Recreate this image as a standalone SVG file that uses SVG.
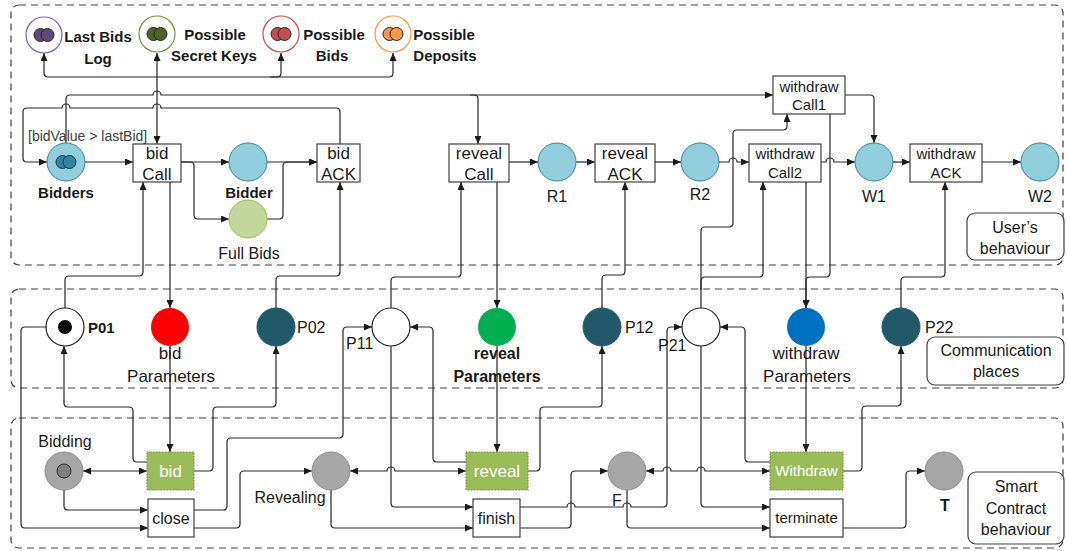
<svg xmlns="http://www.w3.org/2000/svg" width="1067" height="551" viewBox="0 0 1067 551">
<style>
text{font-family:"Liberation Sans",Arial,sans-serif;fill:#1a1a1a}
.frame{fill:none;stroke:#404040;stroke-width:1.2;stroke-dasharray:7 5}
.lbox{fill:#fff;stroke:#404040;stroke-width:1.2}
.tr{fill:#fff;stroke:#404040;stroke-width:1.2}
.gtr{fill:#9bbb59;stroke:#77933c;stroke-width:1.2;stroke-dasharray:1.5 1.5}
.blue{fill:#92cddc;stroke:#31859c;stroke-width:1}
.grey{fill:#a6a6a6;stroke:#8c8c8c;stroke-width:1}
.white{fill:#fff;stroke:#262626;stroke-width:1.2}
.dteal{fill:#215968;stroke:#215968}
.c{fill:none;stroke:#262626;stroke-width:1.2;marker-end:url(#a)}
.n{fill:none;stroke:#262626;stroke-width:1.2}
.b{fill:none;stroke:#262626;stroke-width:1.2;marker-end:url(#a);marker-start:url(#a)}
.t16{font-size:16px}
.t17{font-size:17px}
.t15{font-size:15px}
.bold{font-weight:bold;font-size:15px}
.mid{text-anchor:middle}
.wt{fill:#fff}
</style>
<defs>
<marker id="a" viewBox="0 0 8 7" refX="8" refY="3.5" markerWidth="8" markerHeight="7" markerUnits="userSpaceOnUse" orient="auto-start-reverse"><path d="M0,0 L8,3.5 L0,7 z" fill="#1a1a1a"/></marker>
</defs>

<g id="frames">
<rect class="frame" x="11" y="5" width="1052" height="260" rx="8"/>
<rect class="frame" x="11" y="289" width="1052" height="99" rx="8"/>
<rect class="frame" x="11" y="418" width="1052" height="130" rx="8"/>
</g>

<g id="connectors">
<!-- top row -->
<path class="c" d="M85,162 H133"/>
<path class="c" d="M181,162 H229"/>
<path class="c" d="M181,162 H190 Q194,162 194,166 V215 Q194,219 198,219 H229"/>
<path class="c" d="M267,162 H317"/>
<path class="c" d="M267,219 H279 Q283,219 283,215 V166 Q283,162 287,162 H317"/>
<path class="b" d="M157,144 V53"/>
<path class="c" d="M157,77 H48 Q44,77 44,73 V53"/>
<path class="c" d="M157,77 H277 Q281,77 281,73 V53"/>
<path class="c" d="M270,77 H389 Q393,77 393,73 V53"/>
<path class="c" d="M66,143 V99 Q66,95 70,95 H153 a4,4 0 0 1 8,0 H773"/>
<path class="c" d="M470,95 H474 Q478,95 478,99 V144"/>
<path class="c" d="M340,144 V112 Q340,108 336,108 H161 a4,4 0 0 0 -8,0 H70 a4,4 0 0 0 -8,0 H27 Q23,108 23,112 V158 Q23,162 27,162 H47"/>
<path class="c" d="M845,95 H870 Q874,95 874,99 V143"/>
<path class="c" d="M509,162 H538"/>
<path class="c" d="M576,162 H595"/>
<path class="c" d="M655,162 H681"/>
<path class="c" d="M719,162 H729 a4,4 0 0 1 8,0 H749"/>
<path class="c" d="M821,162 H826 a4,4 0 0 1 8,0 H855"/>
<path class="c" d="M893,162 H910"/>
<path class="c" d="M982,162 H1021"/>
<!-- top to communication -->
<path class="c" d="M65,308 V280 Q65,276 69,276 H139 Q143,276 143,272 V182"/>
<path class="c" d="M170,182 V308"/>
<path class="c" d="M276,308 V280 Q276,276 280,276 H336 Q340,276 340,272 V182"/>
<path class="c" d="M391,308 V281 Q391,277 395,277 H457 Q461,277 461,273 V182"/>
<path class="c" d="M497,182 V308"/>
<path class="c" d="M602,308 V279 Q602,275 606,275 H621 Q625,275 625,271 V182"/>
<path class="c" d="M701,308 V231 Q701,227 705,227 H729 Q733,227 733,223 V134 Q733,130 737,130 H783 Q787,130 787,126 V114"/>
<path class="c" d="M701,290 V281 Q701,277 705,277 H759 Q763,277 763,273 V182"/>
<path class="c" d="M806,182 V308"/>
<path class="c" d="M830,114 V273 Q830,277 826,277 H810 Q806,277 806,281 V308"/>
<path class="c" d="M901,308 V281 Q901,277 905,277 H941 Q945,277 945,273 V182"/>
<!-- communication to smart contract -->
<path class="c" d="M170,346 V452"/>
<path class="c" d="M147,462 H137 Q133,462 133,458 V411 Q133,407 129,407 H68 Q64,407 64,403 V346"/>
<path class="c" d="M194,471 H209 Q213,471 213,467 V411 Q213,407 217,407 H272 Q276,407 276,403 V346"/>
<path class="b" d="M83,471 H147"/>
<path class="c" d="M64,490 V506 Q64,510 68,510 H148"/>
<path class="c" d="M46,327 H25 Q21,327 21,331 V524 Q21,528 25,528 H148"/>
<path class="c" d="M194,510 H223 Q227,510 227,506 V442 Q227,438 231,438 H339 Q343,438 343,434 V331 Q343,327 347,327 H372"/>
<path class="c" d="M194,528 H236 Q240,528 240,524 V475 Q240,471 244,471 H312"/>
<path class="b" d="M350,471 H387 a4,4 0 0 1 8,0 H466"/>
<path class="c" d="M391,346 V503 Q391,507 395,507 H473"/>
<path class="c" d="M331,490 V524 Q331,528 335,528 H473"/>
<path class="c" d="M466,462 H437 Q433,462 433,458 V331 Q433,327 429,327 H410"/>
<path class="c" d="M528,471 H536 Q540,471 540,467 V411 Q540,407 544,407 H598 Q602,407 602,403 V346"/>
<path class="c" d="M497,346 V452"/>
<path class="c" d="M520,528 H567 Q571,528 571,524 V475 Q571,471 575,471 H608"/>
<path class="c" d="M520,507 H567 a4,4 0 0 1 8,0 H623 a4,4 0 0 1 8,0 H663 Q667,507 667,503 V331 Q667,327 671,327 H682"/>
<path class="b" d="M646,471 H663 a4,4 0 0 1 8,0 H697 a4,4 0 0 1 8,0 H770"/>
<path class="c" d="M701,346 V503 Q701,507 705,507 H770"/>
<path class="c" d="M627,490 V524 Q627,528 631,528 H770"/>
<path class="c" d="M770,462 H749 Q745,462 745,458 V331 Q745,327 741,327 H720"/>
<path class="c" d="M843,471 H858 Q862,471 862,467 V410 Q862,406 866,406 H897 Q901,406 901,402 V346"/>
<path class="c" d="M806,346 V452"/>
<path class="c" d="M843,528 H902 Q906,528 906,524 V475 Q906,471 910,471 H925"/>
</g>

<!-- top resource places -->
<g id="last-bids-log">
<circle cx="44" cy="35" r="18" fill="#fff" stroke="#8064a2" stroke-width="1.2"/>
<circle cx="40.5" cy="35" r="6.5" fill="#5f497a" stroke="#262626" stroke-width="1"/>
<circle cx="47.5" cy="35" r="6.5" fill="#5f497a" stroke="#262626" stroke-width="1"/>
<text class="bold mid" x="98" y="42">Last Bids</text>
<text class="bold mid" x="98" y="64">Log</text>
</g>
<g id="possible-secret-keys">
<circle cx="157" cy="34" r="18" fill="#fff" stroke="#77933c" stroke-width="1.2"/>
<circle cx="153.5" cy="34" r="6.5" fill="#4f6228" stroke="#262626" stroke-width="1"/>
<circle cx="160.5" cy="34" r="6.5" fill="#4f6228" stroke="#262626" stroke-width="1"/>
<text class="bold mid" x="215" y="40">Possible</text>
<text class="bold mid" x="214" y="61">Secret Keys</text>
</g>
<g id="possible-bids">
<circle cx="281" cy="34" r="18" fill="#fff" stroke="#c0504d" stroke-width="1.2"/>
<circle cx="277.5" cy="34" r="6.5" fill="#c0504d" stroke="#262626" stroke-width="1"/>
<circle cx="284.5" cy="34" r="6.5" fill="#c0504d" stroke="#262626" stroke-width="1"/>
<text class="bold mid" x="334" y="40">Possible</text>
<text class="bold mid" x="332" y="61">Bids</text>
</g>
<g id="possible-deposits">
<circle cx="393" cy="34" r="18" fill="#fff" stroke="#f79646" stroke-width="1.2"/>
<circle cx="389.5" cy="34" r="6.5" fill="#f79646" stroke="#262626" stroke-width="1"/>
<circle cx="396.5" cy="34" r="6.5" fill="#f79646" stroke="#262626" stroke-width="1"/>
<text class="bold mid" x="444" y="40">Possible</text>
<text class="bold mid" x="445" y="61">Deposits</text>
</g>

<!-- user's behaviour -->
<g id="bidders">
<circle class="blue" cx="66" cy="162" r="19"/>
<circle cx="62.5" cy="162" r="6.5" fill="#31859c" stroke="#17375e" stroke-width="1"/>
<circle cx="69.5" cy="162" r="6.5" fill="#31859c" stroke="#17375e" stroke-width="1"/>
<text class="bold mid" x="66" y="198">Bidders</text>
<text x="28" y="141" font-size="14" fill="#404040" style="fill:#404040">[bidValue &gt; lastBid]</text>
</g>
<g id="bid-call">
<rect class="tr" x="133" y="144" width="48" height="38"/>
<text class="t17 mid" x="157" y="159">bid</text>
<text class="t17 mid" x="157" y="180">Call</text>
</g>
<g id="bidder">
<circle class="blue" cx="248" cy="162" r="19"/>
<text class="bold mid" x="249" y="198">Bidder</text>
</g>
<g id="full-bids">
<circle cx="248" cy="219" r="19" fill="#c3d69b" stroke="#9bbb59" stroke-width="1"/>
<text class="t16 mid" x="249" y="259">Full Bids</text>
</g>
<g id="bid-ack">
<rect class="tr" x="317" y="144" width="43" height="38"/>
<text class="t17 mid" x="338.5" y="159">bid</text>
<text class="t17 mid" x="338.5" y="180">ACK</text>
</g>
<g id="reveal-call">
<rect class="tr" x="449" y="144" width="60" height="38"/>
<text class="t17 mid" x="479" y="159">reveal</text>
<text class="t17 mid" x="479" y="180">Call</text>
</g>
<g id="r1">
<circle class="blue" cx="557" cy="162" r="19"/>
<text class="t16 mid" x="557" y="202">R1</text>
</g>
<g id="reveal-ack">
<rect class="tr" x="595" y="144" width="60" height="38"/>
<text class="t17 mid" x="625" y="159">reveal</text>
<text class="t17 mid" x="625" y="180">ACK</text>
</g>
<g id="r2">
<circle class="blue" cx="700" cy="162" r="19"/>
<text class="t16 mid" x="700" y="200">R2</text>
</g>
<g id="withdraw-call1">
<rect class="tr" x="773" y="76" width="72" height="38"/>
<text class="t15 mid" x="809" y="92">withdraw</text>
<text class="t15 mid" x="809" y="110">Call1</text>
</g>
<g id="withdraw-call2">
<rect class="tr" x="749" y="144" width="72" height="38"/>
<text class="t15 mid" x="785" y="159">withdraw</text>
<text class="t15 mid" x="785" y="178">Call2</text>
</g>
<g id="w1">
<circle class="blue" cx="874" cy="162" r="19"/>
<text class="t16 mid" x="874" y="202">W1</text>
</g>
<g id="withdraw-ack">
<rect class="tr" x="910" y="144" width="72" height="38"/>
<text class="t15 mid" x="946" y="159">withdraw</text>
<text class="t15 mid" x="946" y="178">ACK</text>
</g>
<g id="w2">
<circle class="blue" cx="1040" cy="162" r="19"/>
<text class="t16 mid" x="1040" y="202">W2</text>
</g>
<g id="users-behaviour-label">
<rect class="lbox" x="967" y="213" width="97" height="47" rx="8"/>
<text class="t16 mid" x="1015" y="233">User’s</text>
<text class="t16 mid" x="1015" y="254">behaviour</text>
</g>

<!-- communication places -->
<g id="p01">
<circle class="white" cx="65" cy="327" r="19"/>
<circle cx="65" cy="327" r="7" fill="#000"/>
<text class="bold" x="88" y="333">P01</text>
</g>
<g id="bid-parameters">
<circle cx="170" cy="327" r="19" fill="#ff0000"/>
<text class="t17 mid" x="170" y="359">bid</text>
<text class="t17 mid" x="171" y="382">Parameters</text>
</g>
<g id="p02">
<circle class="dteal" cx="276" cy="327" r="19"/>
<text class="t16" x="297" y="333">P02</text>
</g>
<g id="p11">
<circle class="white" cx="391" cy="327" r="19"/>
<text class="t16" x="346" y="349">P11</text>
</g>
<g id="reveal-parameters">
<circle cx="497" cy="327" r="19" fill="#00b050"/>
<text class="mid" x="497" y="359" font-size="16" font-weight="bold">reveal</text>
<text class="mid" x="497" y="382" font-size="16" font-weight="bold">Parameters</text>
</g>
<g id="p12">
<circle class="dteal" cx="602" cy="327" r="19"/>
<text class="t16" x="625" y="333">P12</text>
</g>
<g id="p21">
<circle class="white" cx="701" cy="327" r="19"/>
<text class="t16" x="658" y="351">P21</text>
</g>
<g id="withdraw-parameters">
<circle cx="806" cy="327" r="19" fill="#0070c0"/>
<text class="t17 mid" x="806" y="359">withdraw</text>
<text class="t17 mid" x="807" y="382">Parameters</text>
</g>
<g id="p22">
<circle class="dteal" cx="901" cy="327" r="19"/>
<text class="t16" x="925" y="333">P22</text>
</g>
<g id="communication-label">
<rect class="lbox" x="927" y="337" width="137" height="48" rx="8"/>
<text class="t16 mid" x="996" y="356">Communication</text>
<text class="t16 mid" x="996" y="377">places</text>
</g>

<!-- smart contract -->
<g id="bidding">
<circle class="grey" cx="64" cy="471" r="19"/>
<circle cx="64" cy="471" r="7" fill="#808080" stroke="#262626" stroke-width="1"/>
<text class="t16 mid" x="65" y="447">Bidding</text>
</g>
<g id="bid">
<rect class="gtr" x="147" y="452" width="47" height="38"/>
<text class="t17 mid wt" x="170.5" y="477">bid</text>
</g>
<g id="close">
<rect class="tr" x="148" y="499" width="46" height="38"/>
<text class="t16 mid" x="171" y="524">close</text>
</g>
<g id="revealing">
<circle class="grey" cx="331" cy="471" r="19"/>
<text class="t16 mid" x="290" y="503">Revealing</text>
</g>
<g id="reveal">
<rect class="gtr" x="466" y="452" width="62" height="38"/>
<text class="t17 mid wt" x="497" y="477">reveal</text>
</g>
<g id="finish">
<rect class="tr" x="473" y="499" width="47" height="38"/>
<text class="t16 mid" x="496.5" y="524">finish</text>
</g>
<g id="f">
<circle class="grey" cx="627" cy="471" r="19"/>
<text class="t16" x="612" y="506">F</text>
</g>
<g id="withdraw">
<rect class="gtr" x="770" y="452" width="73" height="38"/>
<text class="t15 mid wt" x="806.5" y="476">Withdraw</text>
</g>
<g id="terminate">
<rect class="tr" x="770" y="499" width="73" height="38"/>
<text class="t15 mid" x="806.5" y="523">terminate</text>
</g>
<g id="t">
<circle class="grey" cx="944" cy="471" r="19"/>
<text class="mid" x="945" y="511" font-size="16" font-weight="bold">T</text>
</g>
<g id="smart-contract-label">
<rect class="lbox" x="968" y="472" width="96" height="72" rx="8"/>
<text class="t16 mid" x="1016" y="492">Smart</text>
<text class="t16 mid" x="1016" y="514">Contract</text>
<text class="t16 mid" x="1016" y="535">behaviour</text>
</g>
</svg>
